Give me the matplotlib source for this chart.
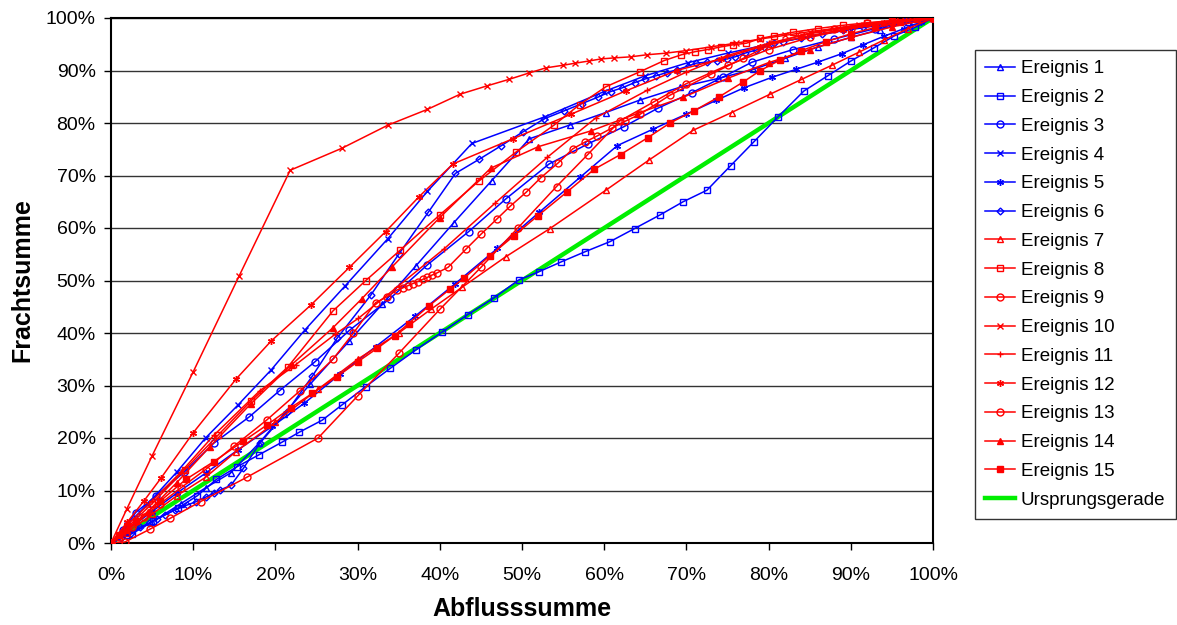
import matplotlib.pyplot as plt
from matplotlib.ticker import PercentFormatter

plt.rcParams['font.family'] = ['Liberation Sans', 'DejaVu Sans']

# Abflusssumme (x) und Frachtsumme (y) je Ereignis, in %
e1_x = [0, 2, 5, 8.5, 11.5, 14.6, 18, 21, 24.2, 29, 33, 37.1, 41.7, 46.3, 50.9, 55.8, 60.2, 64.4, 69.2, 73.9, 78.1, 82, 86, 90, 93.5, 97, 100]
e1_y = [0, 1.5, 4, 7.5, 10.5, 13.4, 19, 24.5, 30.2, 38.5, 45.5, 52.8, 61, 69, 77, 79.6, 82, 84.4, 86.8, 88.5, 90.2, 92.3, 94.5, 96.3, 97.8, 99.2, 100]

e2_x = [0, 2.6, 5.1, 8.2, 10.5, 12.8, 15.3, 18, 20.8, 22.9, 25.7, 28.1, 31, 34, 37.1, 40.3, 43.4, 46.6, 49.6, 52.1, 54.7, 57.7, 60.7, 63.7, 66.8, 69.6, 72.5, 75.4, 78.2, 81.1, 84.3, 87.2, 90, 92.8, 95.3, 97.8, 100]
e2_y = [0, 1.8, 4.1, 6.7, 9, 12.1, 14.5, 16.8, 19.2, 21.1, 23.4, 26.3, 29.8, 33.3, 36.8, 40.2, 43.5, 46.7, 50.1, 51.7, 53.5, 55.5, 57.4, 59.9, 62.5, 65, 67.2, 71.9, 76.4, 81.1, 86.1, 89, 91.8, 94.3, 96.6, 98.2, 100]

e3_x = [0, 1.5, 3, 5.5, 8.9, 12.5, 16.8, 20.5, 24.8, 29, 33.9, 38.5, 43.5, 48, 53.3, 58, 62.4, 66.5, 70.7, 74.5, 78, 83, 88, 93, 97, 100]
e3_y = [0, 2.5, 5.8, 9, 13.5, 19, 24, 29, 34.5, 40.5, 46.5, 53, 59.3, 65.5, 72.2, 76, 79.3, 82.8, 85.8, 88.8, 91.6, 94, 96, 98, 99.3, 100]

e4_x = [0, 2, 4.5, 8, 11.5, 15.4, 19.5, 23.6, 28.5, 33.7, 38.5, 43.9, 52.8, 60, 65, 70.2, 75, 80, 85, 90, 95, 100]
e4_y = [0, 3.5, 7.5, 13.5, 20, 26.2, 33, 40.6, 49, 58, 67, 76.1, 81.2, 86, 89, 91.5, 93.3, 95, 96.5, 97.8, 99, 100]

e5_x = [0, 2, 5, 8, 11.6, 15.5, 19.6, 23.5, 27.9, 32.2, 37, 41.8, 47, 52.1, 57.1, 61.6, 65.9, 70, 73.6, 77, 80.4, 83.3, 86, 88.9, 91.5, 94, 96.5, 98.5, 100]
e5_y = [0, 2.5, 6, 9.5, 13.4, 17.8, 22.2, 26.6, 32.2, 37.4, 43.2, 49.3, 56.1, 63, 69.7, 75.7, 78.8, 81.7, 84.3, 86.7, 88.7, 90.2, 91.6, 93.2, 94.9, 96.5, 98, 99.2, 100]

e6_x = [0, 1.2, 2.4, 3.5, 4.6, 5.6, 6.6, 7.8, 9.2, 10.4, 11.6, 12.5, 13.3, 14.6, 16.1, 18.1, 21.4, 24.5, 27.5, 31.6, 35, 38.6, 41.9, 44.8, 47.5, 50.1, 52.7, 55.1, 57.3, 59.2, 60.8, 62.2, 63.7, 65, 66.3, 67.6, 68.8, 71.2, 72.5, 73.7, 74.9, 75.9, 77.1, 78.5, 79.5, 80.6, 81.7, 84, 86.5, 89, 91.5, 94, 96.5, 100]
e6_y = [0, 1, 2, 3, 3.8, 4.6, 5.4, 6.3, 7.2, 7.9, 8.8, 9.5, 10.1, 11, 14.2, 19, 25, 31.8, 39, 47.2, 55, 63, 70.4, 73.1, 75.7, 78.3, 80.8, 82.3, 83.7, 84.9, 86, 86.7, 87.7, 88.4, 89, 89.6, 90.1, 91.4, 91.6, 91.8, 92.2, 92.6, 93.3, 93.9, 94.5, 95.2, 95.5, 96.2, 97, 97.7, 98.3, 98.9, 99.5, 100]

e7_x = [0, 2, 5, 8, 11.5, 15.2, 20, 25.2, 30, 35, 38.9, 42.7, 48, 53.4, 60.2, 65.5, 70.8, 75.5, 80.2, 84, 87.7, 91, 94, 97, 100]
e7_y = [0, 2, 5.5, 9, 12.5, 17.4, 23, 29.3, 35, 40, 44.5, 48.7, 54.5, 59.9, 67.2, 73, 78.6, 82, 85.5, 88.3, 91, 93.5, 95.8, 98, 100]

e8_x = [0, 2, 5, 9, 13, 17, 21.5, 27, 31, 35.2, 40, 44.8, 49.3, 53.9, 57, 60.2, 64.4, 67.3, 69.4, 71.1, 72.6, 74.2, 75.7, 77.3, 79, 80.6, 83, 86, 89, 92, 95, 98, 100]
e8_y = [0, 3, 7.5, 14, 20.5, 27, 33.5, 44.2, 50, 55.8, 62.5, 69, 74.5, 79.6, 83.5, 86.9, 89.8, 91.9, 93, 93.6, 94, 94.5, 94.9, 95.2, 96.1, 96.6, 97.3, 98, 98.6, 99.1, 99.5, 99.8, 100]

e9_x = [0, 1.7, 4.7, 7.2, 10.9, 16.5, 25.2, 30, 35, 40, 45, 49.5, 54.2, 58, 61.9, 66, 70, 75, 80, 85, 90, 95, 100]
e9_y = [0, 0.2, 2.6, 4.7, 7.9, 12.5, 20, 28, 36.1, 44.5, 52.5, 60, 67.9, 74, 80.4, 84, 87.5, 91, 94, 96.3, 98, 99.2, 100]

e10_x = [0, 1.9, 5, 10, 15.6, 21.8, 28.1, 33.7, 38.5, 42.5, 45.8, 48.4, 50.8, 52.9, 55, 56.5, 58.1, 59.6, 61.2, 63.2, 65.2, 67.5, 70, 73, 76, 79, 82, 85, 88, 91, 94, 97, 100]
e10_y = [0, 6.4, 16.6, 32.6, 50.9, 71, 75.2, 79.6, 82.6, 85.5, 87.1, 88.3, 89.5, 90.5, 91, 91.4, 91.8, 92.2, 92.4, 92.6, 93, 93.3, 93.8, 94.5, 95.2, 96, 96.7, 97.4, 98, 98.6, 99.1, 99.6, 100]

e11_x = [0, 2, 5, 8.5, 12.5, 18.1, 22.5, 27.3, 30.1, 35, 40.5, 46.7, 53.1, 59, 65.2, 70, 74.9, 80, 85, 90, 95, 100]
e11_y = [0, 3.5, 8, 13.5, 20.5, 29, 34, 39.8, 42.8, 49, 56, 64.7, 73.5, 81, 86.2, 89.7, 92.8, 95.2, 97, 98.3, 99.3, 100]

e12_x = [0, 2, 4, 6.1, 10, 15.2, 19.5, 24.3, 29, 33.4, 37.5, 41.6, 48.9, 56, 62.6, 68.8, 74.2, 79, 84, 89, 94, 100]
e12_y = [0, 4, 8, 12.4, 21, 31.2, 38.5, 45.3, 52.5, 59.3, 66, 72.2, 77, 81.7, 86.1, 90, 92.2, 94.5, 96.3, 97.8, 99, 100]

e13_x = [0, 1, 2.5, 4, 6, 8.5, 11.5, 15, 19, 23, 27, 29.5, 32.2, 33.6, 34.8, 35.5, 36.1, 36.7, 37.3, 37.9, 38.5, 39, 39.6, 41, 43.2, 45, 47, 48.6, 50.5, 52.3, 54.4, 56.2, 57.7, 59.1, 60.9, 62.5, 64.4, 68, 73, 76.9, 80.3, 84, 88, 92, 96, 100]
e13_y = [0, 1.2, 3, 5, 7.5, 10.5, 14, 18.5, 23.5, 29, 35, 40, 45.8, 46.9, 48.2, 48.6, 49, 49.4, 49.8, 50.2, 50.6, 51, 51.4, 52.5, 56, 58.8, 61.8, 64.2, 66.8, 69.6, 72.4, 75.1, 76.4, 77.5, 79, 80.3, 81.7, 85.3, 89.3, 92.3, 95, 96.8, 98, 99, 99.6, 100]

e14_x = [0, 2, 4.5, 8, 12, 17, 22, 27, 30.5, 34.2, 40, 46.2, 52, 58.4, 64, 69.6, 75, 80, 85, 90, 95, 100]
e14_y = [0, 2.5, 6, 11.5, 18.3, 26.5, 34, 41, 46.5, 52.6, 62, 71.4, 75.5, 78.5, 81.8, 84.9, 88.5, 91.5, 94, 96.3, 98.3, 100]

e15_x = [0, 1, 3.1, 6, 9.1, 12.5, 16.1, 19, 21.9, 24.5, 27.5, 30, 32.4, 34.5, 36.2, 38.7, 41.2, 42.9, 46.1, 49, 51.9, 55.5, 58.8, 62, 65.3, 68, 70.9, 74, 76.9, 79, 81.4, 84, 87, 90, 93, 96, 100]
e15_y = [0, 1.5, 4.1, 8, 12.1, 15.5, 19.4, 22.5, 25.8, 28.5, 31.7, 34.5, 37.1, 39.5, 41.8, 45.2, 48.3, 50.4, 54.7, 58.5, 62.3, 66.9, 71.2, 74, 77.2, 80, 82.3, 85, 87.8, 90, 92, 93.8, 95.5, 97, 98.2, 99.2, 100]

ursprung_x = [0, 100]
ursprung_y = [0, 100]

serien = [
    ("Ereignis 1", e1_x, e1_y, "blue", "^", "none"),
    ("Ereignis 2", e2_x, e2_y, "blue", "s", "none"),
    ("Ereignis 3", e3_x, e3_y, "blue", "o", "none"),
    ("Ereignis 4", e4_x, e4_y, "blue", "x", "none"),
    ("Ereignis 5", e5_x, e5_y, "blue", (6, 2, 0), "none"),
    ("Ereignis 6", e6_x, e6_y, "blue", "D", "none"),
    ("Ereignis 7", e7_x, e7_y, "red", "^", "none"),
    ("Ereignis 8", e8_x, e8_y, "red", "s", "none"),
    ("Ereignis 9", e9_x, e9_y, "red", "o", "none"),
    ("Ereignis 10", e10_x, e10_y, "red", "x", "none"),
    ("Ereignis 11", e11_x, e11_y, "red", "+", "none"),
    ("Ereignis 12", e12_x, e12_y, "red", (6, 2, 0), "none"),
    ("Ereignis 13", e13_x, e13_y, "red", "o", "none"),
    ("Ereignis 14", e14_x, e14_y, "red", "^", "full"),
    ("Ereignis 15", e15_x, e15_y, "red", "s", "full"),
]

fig = plt.figure(figsize=(11.77, 6.25), dpi=100)
ax = fig.add_axes([0.0943, 0.1312, 0.6984, 0.84])

for name, x, y, farbe, marker, fill in serien:
    ms = 3.5 if marker == "D" else 5
    ax.plot(x, y, color=farbe, lw=1.1, marker=marker, markersize=ms,
            fillstyle=fill, markeredgewidth=1.0, label=name, zorder=3)

ax.plot(ursprung_x, ursprung_y, color="#00ee00", lw=3.2, label="Ursprungsgerade", zorder=2.5)

ax.set_xlim(0, 100)
ax.set_ylim(0, 100)
ax.set_xticks(range(0, 101, 10))
ax.set_yticks(range(0, 101, 10))
ax.xaxis.set_major_formatter(PercentFormatter(decimals=0))
ax.yaxis.set_major_formatter(PercentFormatter(decimals=0))
ax.tick_params(labelsize=14, direction="out", length=5, width=1, color="black")
ax.tick_params(axis="x", pad=12)
ax.tick_params(axis="y", pad=6)
ax.grid(True, axis="y", color="#333333", lw=1)
ax.set_axisbelow(True)
for s in ax.spines.values():
    s.set_linewidth(1.5)
    s.set_color("black")

ax.set_xlabel("Abflusssumme", fontsize=18, fontweight="bold", labelpad=10)
ax.set_ylabel("Frachtsumme", fontsize=18, fontweight="bold", labelpad=8)

leg = ax.legend(loc="upper left", bbox_to_anchor=(975 / 1177, 1 - 50 / 625),
                bbox_transform=fig.transFigure, fontsize=13.5, frameon=True,
                fancybox=False, edgecolor="black", borderpad=0.55,
                labelspacing=0.62, handlelength=1.6, handletextpad=0.3,
                borderaxespad=0)
leg.get_frame().set_linewidth(1.0)

plt.savefig("out.png", dpi=100)
